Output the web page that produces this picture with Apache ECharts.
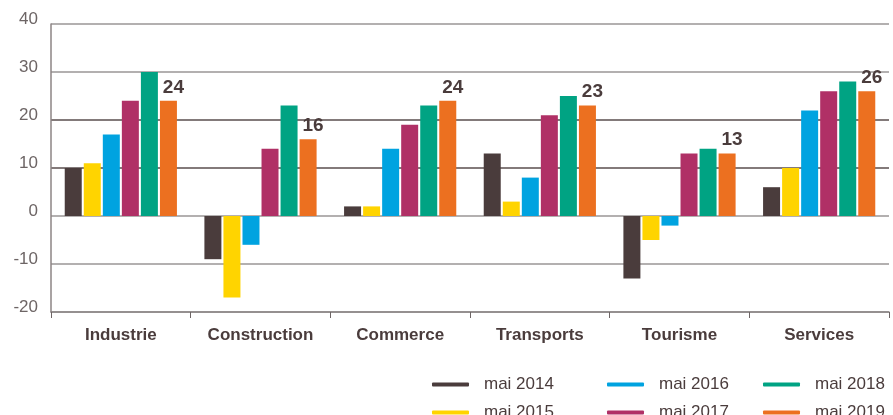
<!DOCTYPE html>
<html>
<head>
<meta charset="utf-8">
<script src="https://cdn.jsdelivr.net/npm/echarts@6/dist/echarts.min.js"></script>
<style>
  html, body { margin: 0; padding: 0; background: #fff; }
  #chart { width: 893px; height: 415px; }
</style>
</head>
<body>
<div id="chart"></div>
<script>
// secteurs
const categories = ['Industrie', 'Construction', 'Commerce', 'Transports', 'Tourisme', 'Services'];
const seriesNames = ['mai 2014', 'mai 2015', 'mai 2016', 'mai 2017', 'mai 2018', 'mai 2019'];

// valeurs
const mai2014 = [10, -9, 2, 13, -13, 6];
const mai2015 = [11, -17, 2, 3, -5, 10];
const mai2016 = [17, -6, 14, 8, -2, 22];
const mai2017 = [24, 14, 19, 21, 13, 26];
const mai2018 = [30, 23, 23, 25, 14, 28];
const mai2019 = [24, 16, 24, 23, 13, 26];

const yTicks = [-20, -10, 0, 10, 20, 30, 40];

const colors = ['#4a3c3c', '#ffd400', '#00a3e0', '#b03066', '#00a383', '#ec7020'];
const allData = [mai2014, mai2015, mai2016, mai2017, mai2018, mai2019];
const font = '"Liberation Sans", Arial, sans-serif';

const chart = echarts.init(document.getElementById('chart'));

const series = allData.map((data, i) => ({
  name: seriesNames[i],
  type: 'bar',
  data: data,
  barWidth: 17,
  barGap: '12%',
  itemStyle: { color: colors[i] },
  label: i === 5 ? {
    show: true,
    position: 'top',
    distance: 4,
    offset: [5, 0],
    fontFamily: font,
    fontWeight: 'bold',
    fontSize: 19,
    color: '#4a3c3c'
  } : { show: false }
}));

// légende en trois colonnes de deux lignes
const legendCols = [[0, 1], [2, 3], [4, 5]];
const legendLeft = [432, 607, 763];
const legends = legendCols.map((idx, c) => ({
  orient: 'vertical',
  left: legendLeft[c],
  top: 376,
  height: 60,
  data: idx.map(i => seriesNames[i]),
  icon: 'roundRect',
  itemWidth: 37,
  itemHeight: 4,
  itemGap: 11,
  padding: 0,
  textStyle: {
    fontFamily: font,
    fontSize: 17,
    color: '#4a3c3c',
    lineHeight: 16,
    padding: [0, 0, 0, 10]
  }
}));

const option = {
  animation: false,
  color: colors,
  grid: { left: 51, right: 4, top: 24, bottom: 103 },
  legend: legends,
  xAxis: {
    type: 'category',
    data: categories,
    axisLine: { onZero: false, lineStyle: { color: '#8c8585', width: 1.5 } },
    axisTick: { show: true, length: 6, lineStyle: { color: '#6d6565' } },
    axisLabel: {
      margin: 15,
      fontFamily: font,
      fontWeight: 'bold',
      fontSize: 17,
      color: '#4a3c3c'
    }
  },
  yAxis: {
    type: 'value',
    min: yTicks[0],
    max: yTicks[yTicks.length - 1],
    interval: 10,
    axisLine: { show: true, lineStyle: { color: '#8c8585', width: 1.5 } },
    axisTick: { show: false },
    axisLabel: {
      margin: 13,
      fontFamily: font,
      fontSize: 17,
      color: '#6d6565',
      verticalAlign: 'bottom',
      lineHeight: 10
    },
    splitLine: {
      lineStyle: {
        color: ['#9a9696', '#9a9696', '#9a9696', '#5a4e4e', '#5a4e4e', '#9a9696', '#9a9696'],
        width: 1.5
      }
    }
  },
  series: series
};

chart.setOption(option);
</script>
</body>
</html>
